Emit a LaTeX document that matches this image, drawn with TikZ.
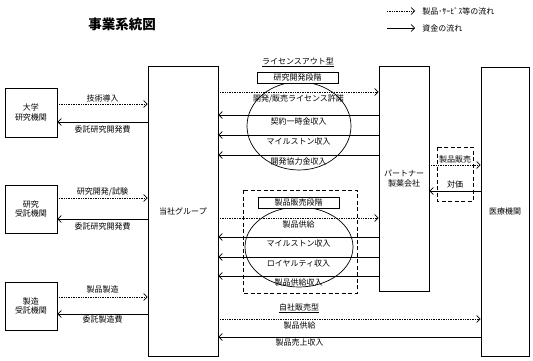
\documentclass[tikz,border=0pt]{standalone}
\usepackage{fontspec}
\setmainfont{Noto Sans CJK JP}
\usepackage{tikz}
\usetikzlibrary{positioning,arrows.meta,calc}

\begin{document}
\begin{tikzpicture}[x=1pt, y=-1pt, line width=0.7pt,
  every node/.style={font=\fontsize{8}{9.5}\selectfont, inner sep=1pt},
  box/.style={draw, align=center, inner sep=0pt},
  stagebox/.style={draw, fill=white, inner sep=0pt, minimum width=81pt, minimum height=11pt},
  goods/.style={densely dotted, -{Straight Barb[length=3.5pt,width=7pt]}},
  money/.style={-{Straight Barb[length=3.5pt,width=7pt]}},
  frame/.style={dash pattern=on 4pt off 2.5pt}]
  \useasboundingbox (0,0) rectangle (533,361);

  % title and legend
  \node[font=\fontsize{13.5}{16}\selectfont\bfseries] (title) at (122,24) {事業系統図};
  \coordinate (lg0) at (387,11);
  \coordinate (lg1) at (415,11);
  \coordinate (lm0) at (387,28);
  \coordinate (lm1) at (415,28);
  \draw[goods] (lg0) -- (lg1);
  \draw[money] (lm0) -- (lm1);
  \node[anchor=west] (lgoods) at (421,11) {製品･ｻｰﾋﾞｽ等の流れ};
  \node[anchor=west] (lmoney) at (421,28) {資金の流れ};

  % boxes
  \node[box, minimum width=52pt, minimum height=49pt] (univ) at (31,112.5) {大学\\研究機関};
  \node[box, minimum width=52pt, minimum height=48pt] (cro) at (31,209) {研究\\受託機関};
  \node[box, minimum width=52pt, minimum height=48pt] (cmo) at (31,306) {製造\\受託機関};
  \node[box, minimum width=70pt, minimum height=290pt] (grp) at (183,211) {当社グループ};
  \node[box, minimum width=50pt, minimum height=225pt] (ptn) at (404,178.5) {パートナー\\製薬会社};
  \node[box, minimum width=48pt, minimum height=289pt] (med) at (505,211.5) {医療機関};

  % left side
  \draw[goods] (univ.east |- 0,104) -- (grp.west |- 0,104) node[midway, above=1pt] {技術導入};
  \draw[money] (grp.west |- 0,122) -- (univ.east |- 0,122) node[midway, below=2.5pt] {委託研究開発費};
  \draw[goods] (cro.east |- 0,198) -- (grp.west |- 0,198) node[midway, above=1pt] {研究開発/試験};
  \draw[money] (grp.west |- 0,219) -- (cro.east |- 0,219) node[midway, below=2pt] {委託研究開発費};
  \draw[goods] (cmo.east |- 0,297) -- (grp.west |- 0,297) node[midway, above=2pt] {製品製造};
  \draw[money] (grp.west |- 0,314) -- (cmo.east |- 0,314) node[midway, below=0.5pt] {委託製造費};

  % license out
  \node (lotitle) at (298,62) {\underline{ライセンスアウト型}};
  \draw (299,126) ellipse [x radius=52pt, y radius=44pt];
  \node[stagebox] (rdstage) at (297.5,77.5) {研究開発段階};
  \draw[goods] (grp.east |- 0,92) -- (ptn.west |- 0,92) node[midway, below=1.5pt] {開発/販売ライセンス許諾};
  \foreach \y/\t in {115/契約一時金収入, 135/マイルストン収入, 155/開発協力金収入}
    \draw[money] (ptn.west |- 0,\y) -- (grp.east |- 0,\y) node[midway, below=1.5pt] {\t};

  % product sales
  \draw[frame] (243,190) rectangle (357,293);
  \draw (299,247) ellipse [x radius=54pt, y radius=40pt];
  \node[stagebox] (psstage) at (298.5,202.5) {製品販売段階};
  \draw[goods] (grp.east |- 0,218) -- (ptn.west |- 0,218) node[midway, below=1.5pt] {製品供給};
  \foreach \y/\t in {237/マイルストン収入, 257/ロイヤルティ収入, 276/製品供給収入}
    \draw[money] (ptn.west |- 0,\y) -- (grp.east |- 0,\y) node[midway, below=1.5pt] {\t};

  % partner to medical
  \draw[frame] (437,147) rectangle (473,201);
  \draw[goods] (ptn.east |- 0,165) -- (med.west |- 0,165) node[midway, above=0pt] {製品販売};
  \draw[money] (med.west |- 0,191) -- (ptn.east |- 0,191) node[midway, above=1.5pt] {対価};

  % own sales
  \node (sstitle) at (299,308) {\underline{自社販売型}};
  \draw[goods] (grp.east |- 0,319) -- (med.west |- 0,319) node[pos=0.31, below=1.5pt] {製品供給};
  \draw[money] (med.west |- 0,337) -- (grp.east |- 0,337) node[pos=0.69, below=0.5pt] {製品売上収入};
\end{tikzpicture}
\end{document}
